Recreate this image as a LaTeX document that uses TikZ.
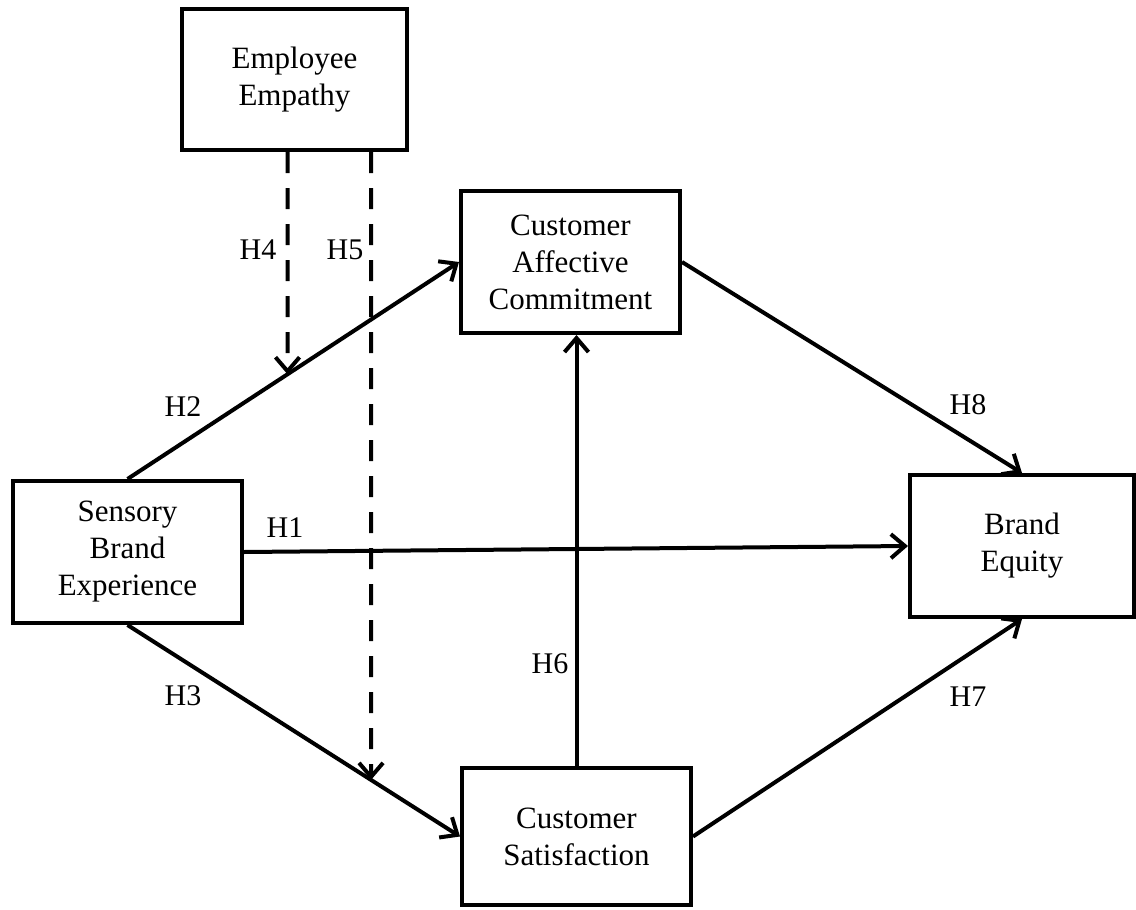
\documentclass[tikz,border=0pt]{standalone}
\usepackage{fontspec}
\setmainfont{Liberation Serif}
\usetikzlibrary{arrows.meta,calc}
\begin{document}
\begin{tikzpicture}[x=1pt,y=-1pt,
  box/.style={draw,line width=4pt,rectangle,align=center,font=\fontsize{31}{37}\selectfont,inner sep=0pt},
  lbl/.style={font=\fontsize{30}{34}\selectfont,inner sep=0pt},
  conn/.style={line width=4pt,-{Straight Barb[length=14pt,width=24pt,line width=4pt]}},
  dashconn/.style={conn,dash pattern=on 21pt off 15pt}]
\useasboundingbox (0,0) rectangle (1136,910);
\node[box,minimum width=225pt,minimum height=141pt] (ee) at (294.5,79.5) {Employee\\Empathy};
\node[box,minimum width=219pt,minimum height=142pt] (cac) at (570.5,262) {Customer\\Affective\\Commitment};
\node[box,minimum width=229pt,minimum height=142pt] (sbe) at (127.5,552) {Sensory\\Brand\\Experience};
\node[box,minimum width=224pt,minimum height=142pt] (be) at (1022,546) {Brand\\Equity};
\node[box,minimum width=229pt,minimum height=137pt] (cs) at (576.5,836.5) {Customer\\Satisfaction};
\draw[conn] (sbe.north) -- (cac.west);
\draw[conn] (sbe.east) -- (be.west);
\draw[conn] (sbe.south) -- (cs.west);
\draw[conn] (cs.north) -- (cs.north |- cac.south);
\draw[conn] (cs.east) -- (be.south);
\draw[conn] (cac.east) -- (be.north);
\coordinate (h4top) at ($(ee.south)+(-7,0)$);
\coordinate (h5top) at ($(ee.south)+(76.5,0)$);
\coordinate (h4end) at (intersection of h4top--{$(h4top)+(0,10)$} and sbe.north--cac.west);
\coordinate (h5end) at (intersection of h5top--{$(h5top)+(0,10)$} and sbe.south--cs.west);
\draw[dashconn] (h4top) -- (h4end);
\draw[dashconn] (h5top) -- (h5end);
\node[lbl] (l4) at (258,250) {H4};
\node[lbl] (l5) at (345,250) {H5};
\node[lbl] (l2) at (183,407) {H2};
\node[lbl] (l1) at (285,528) {H1};
\node[lbl] (l3) at (183,696) {H3};
\node[lbl] (l6) at (550,664) {H6};
\node[lbl] (l7) at (968,697) {H7};
\node[lbl] (l8) at (968,405) {H8};
\end{tikzpicture}
\end{document}
